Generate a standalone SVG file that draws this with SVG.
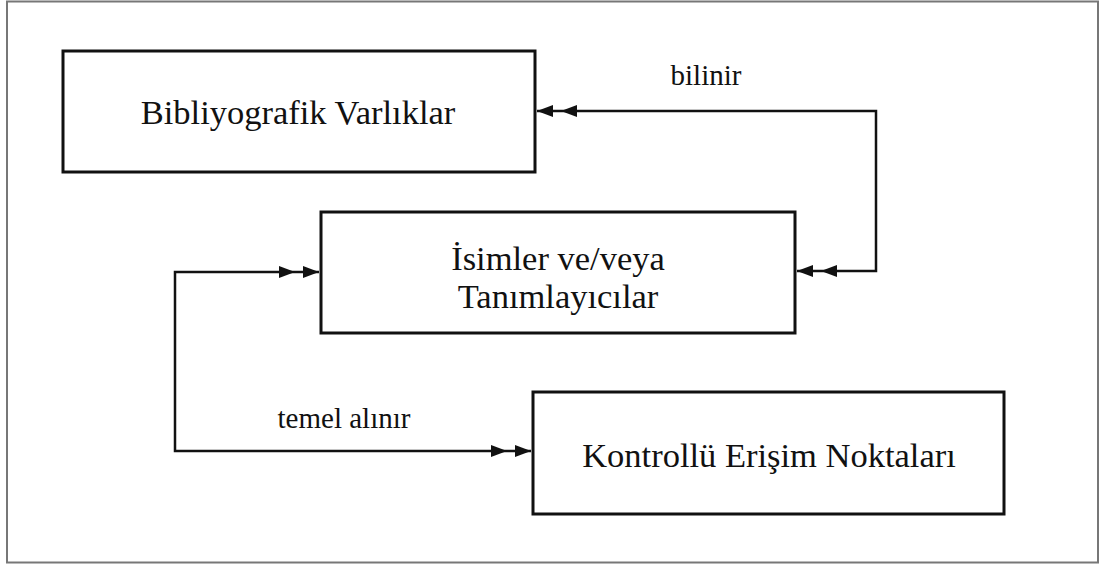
<svg xmlns="http://www.w3.org/2000/svg" width="1101" height="565" viewBox="0 0 1101 565">
<style>
.box{fill:#fff;stroke:#111;stroke-width:3}
.t{font-family:"Liberation Serif",serif;font-size:34.5px;fill:#111;text-anchor:middle}
.l{font-family:"Liberation Serif",serif;font-size:29px;fill:#111;text-anchor:middle}
.c{fill:none;stroke:#111;stroke-width:2.5}
.ah{fill:#111}
</style>
<rect x="0" y="0" width="1101" height="565" fill="#fff"/>
<rect x="7" y="1.5" width="1091" height="561" fill="#fff" stroke="#777" stroke-width="2"/>
<g id="n1"><rect class="box" x="63" y="51" width="472" height="121"/><text class="t" x="298" y="124">Bibliyografik Varlıklar</text></g>
<g id="n2"><rect class="box" x="321" y="212" width="474" height="121"/><text class="t" x="558" y="270">İsimler ve/veya</text><text class="t" x="558" y="308">Tanımlayıcılar</text></g>
<g id="n3"><rect class="box" x="533" y="392" width="471" height="122"/><text class="t" x="769" y="467">Kontrollü Erişim Noktaları</text></g>
<g id="connectors">
<path class="c" d="M537,111 H876 V271 H797"/>
<path class="ah" d="M537,111 L553,105 L553,117 Z"/>
<path class="ah" d="M561,111 L577,105 L577,117 Z"/>
<path class="ah" d="M797,271 L813,265 L813,277 Z"/>
<path class="ah" d="M821,271 L837,265 L837,277 Z"/>
<path class="c" d="M319,272 H175 V451 H531"/>
<path class="ah" d="M319,272 L303,266 L303,278 Z"/>
<path class="ah" d="M295,272 L279,266 L279,278 Z"/>
<path class="ah" d="M531,451 L515,445 L515,457 Z"/>
<path class="ah" d="M507,451 L491,445 L491,457 Z"/>
<text class="l" x="706" y="85">bilinir</text>
<text class="l" x="344" y="428">temel alınır</text>
</g>
</svg>
